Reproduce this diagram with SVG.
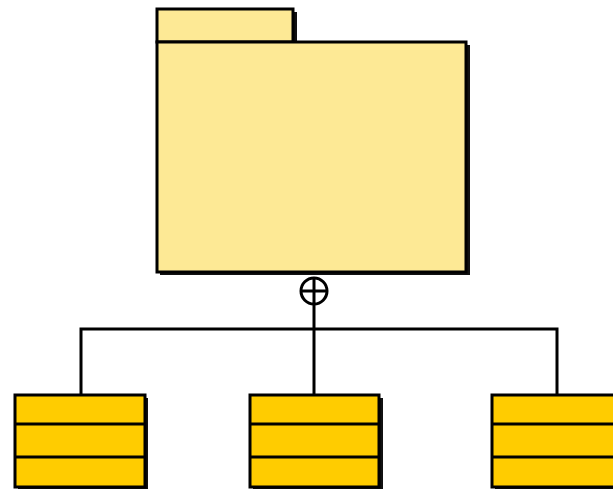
<svg xmlns="http://www.w3.org/2000/svg" width="613" height="489" viewBox="0 0 613 489">
<style>
.pkg{fill:#FDE995;stroke:#000;stroke-width:3}
.cls{fill:#FFCC00;stroke:#000;stroke-width:3}
.sh{fill:#111}
.ln{fill:none;stroke:#000;stroke-width:3}
</style>
<rect width="613" height="489" fill="#fff"/>
<g id="package">
<rect class="sh" x="160" y="12" width="137" height="33"/>
<rect class="sh" x="160" y="45" width="310" height="230"/>
<rect class="pkg" x="157" y="9" width="136" height="33"/>
<rect class="pkg" x="157" y="42" width="309" height="230"/>
</g>
<g id="connectors">
<circle class="ln" cx="314" cy="291" r="13" fill="#fff"/>
<line class="ln" x1="301" y1="291" x2="327" y2="291"/>
<line class="ln" x1="314" y1="278" x2="314" y2="396"/>
<polyline class="ln" points="81,396 81,329 557,329 557,396"/>
</g>
<g id="class1">
<rect class="sh" x="18" y="398" width="130" height="92"/>
<rect class="cls" x="15" y="395" width="130" height="92"/>
<line class="ln" x1="15" y1="424" x2="145" y2="424"/>
<line class="ln" x1="15" y1="457" x2="145" y2="457"/>
</g>
<g id="class2">
<rect class="sh" x="253" y="398" width="130" height="92"/>
<rect class="cls" x="250" y="395" width="129" height="92"/>
<line class="ln" x1="250" y1="424" x2="379" y2="424"/>
<line class="ln" x1="250" y1="457" x2="379" y2="457"/>
</g>
<g id="class3">
<rect class="sh" x="495" y="398" width="130" height="92"/>
<rect class="cls" x="492" y="395" width="130" height="92"/>
<line class="ln" x1="492" y1="424" x2="622" y2="424"/>
<line class="ln" x1="492" y1="457" x2="622" y2="457"/>
</g>
</svg>
